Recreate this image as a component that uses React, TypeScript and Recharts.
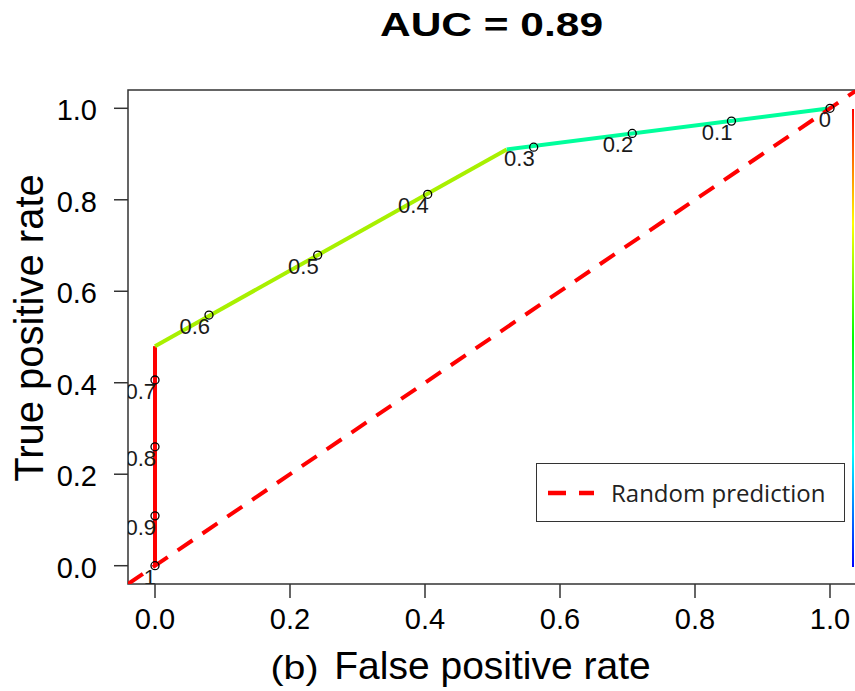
import {
  ComposedChart,
  Line,
  Scatter,
  XAxis,
  YAxis,
  ReferenceLine,
  ReferenceArea,
  Label,
  Customized
} from "recharts";

// ROC curve vertices (fpr, tpr) and the colour of each segment between them
const rocFpr = [0, 0, 0.521, 1];
const rocTpr = [0, 0.48, 0.91, 1];
const segmentColors = ["#ff0000", "#a8f000", "#00ff9c"];

// cutoff markers printed along the curve
const cutoffLabels = ["1", "0.9", "0.8", "0.7", "0.6", "0.5", "0.4", "0.3", "0.2", "0.1", "0"];
const cutoffFpr = [0, 0, 0, 0, 0.08, 0.241, 0.404, 0.561, 0.707, 0.854, 1];
const cutoffTpr = [0, 0.109, 0.26, 0.406, 0.548, 0.679, 0.812, 0.915, 0.945, 0.972, 1];

const xTicks = [0, 0.2, 0.4, 0.6, 0.8, 1];
const yTicks = [0, 0.2, 0.4, 0.6, 0.8, 1];
const axisDomain: [number, number] = [-0.04, 1.04];

const segments = segmentColors.map((color, i) => ({
  color,
  points: [
    { x: rocFpr[i], y: rocTpr[i] },
    { x: rocFpr[i + 1], y: rocTpr[i + 1] }
  ]
}));

const cutPoints = cutoffLabels.map((label, i) => ({ x: cutoffFpr[i], y: cutoffTpr[i], label }));

const FONT = "'Liberation Sans', Arial, sans-serif";

const XTick = ({ x, y, payload }: any) => (
  <text x={x} y={y} dy={29} textAnchor="middle" fontSize={29} fontFamily={FONT} fill="#000">
    {Number(payload.value).toFixed(1)}
  </text>
);

const YTick = ({ x, y, payload }: any) => (
  <text x={x - 15} y={y} dy={12} textAnchor="end" fontSize={29} fontFamily={FONT} fill="#000">
    {Number(payload.value).toFixed(1)}
  </text>
);

// open circle + cutoff value, text sits below-left of the point like ROCR does
const CutoffMark = ({ cx, cy, payload }: any) => (
  <g>
    <circle cx={cx} cy={cy} r={4} fill="none" stroke="#000" strokeWidth={1.3} />
    <text x={cx + 1} y={cy + 19} textAnchor="end" fontSize={22} fontFamily={FONT} fill="#1a1a1a">
      {payload.label}
    </text>
  </g>
);

const Title = () => (
  <text
    x={491.5}
    y={36}
    textAnchor="middle"
    fontSize={34}
    fontWeight="bold"
    fontFamily={FONT}
    fill="#000"
    textLength={223}
    lengthAdjust="spacingAndGlyphs"
  >
    AUC = 0.89
  </text>
);

export default function App() {
  return (
    <div style={{ position: "fixed", left: 0, top: 0, width: 855, height: 691, overflow: "hidden", background: "#fff" }}>
      <style>{`html, body { margin: 0; overflow: hidden; }`}</style>
      <ComposedChart
        width={870}
        height={691}
        margin={{ top: 90, right: 13, left: 8, bottom: 0 }}
      >
        <XAxis
          type="number"
          dataKey="x"
          domain={axisDomain}
          allowDataOverflow
          ticks={xTicks}
          interval={0}
          height={107}
          tickSize={14}
          axisLine={false}
          tickLine={{ stroke: "#333", strokeWidth: 1.5 }}
          tick={<XTick />}
        >
          <Label
            content={({ viewBox }: any) => (
              <text fontFamily={FONT} fill="#000">
                <tspan
                  x={viewBox.x + viewBox.width / 2 - 174}
                  y={679}
                  textAnchor="end"
                  fontSize={34}
                  textLength={48}
                  lengthAdjust="spacingAndGlyphs"
                >
                  (b)
                </tspan>
                <tspan x={viewBox.x + viewBox.width / 2} y={679} textAnchor="middle" fontSize={39}>
                  False positive rate
                </tspan>
              </text>
            )}
          />
        </XAxis>
        <YAxis
          type="number"
          dataKey="y"
          domain={axisDomain}
          allowDataOverflow
          ticks={yTicks}
          interval={0}
          width={120}
          tickSize={14}
          axisLine={false}
          tickLine={{ stroke: "#333", strokeWidth: 1.5 }}
          tick={<YTick />}
        >
          <Label
            content={({ viewBox }: any) => {
              const cy = viewBox.y + viewBox.height / 2 - 9;
              return (
                <text
                  x={43}
                  y={cy}
                  transform={`rotate(-90, 43, ${cy})`}
                  textAnchor="middle"
                  fontSize={40}
                  fontFamily={FONT}
                  fill="#000"
                >
                  True positive rate
                </text>
              );
            }}
          />
        </YAxis>

        {/* plot frame */}
        <ReferenceArea
          x1={axisDomain[0]}
          x2={axisDomain[1]}
          y1={axisDomain[0]}
          y2={axisDomain[1]}
          fill="none"
          stroke="#333"
          strokeWidth={1.5}
          ifOverflow="visible"
        />

        {segments.map((s, i) => (
          <Line
            key={i}
            data={s.points}
            dataKey="y"
            type="linear"
            stroke={s.color}
            strokeWidth={4}
            dot={false}
            activeDot={false}
            isAnimationActive={false}
          />
        ))}

        <Scatter data={cutPoints} dataKey="y" shape={<CutoffMark />} isAnimationActive={false} />

        <ReferenceLine
          segment={[
            { x: axisDomain[0], y: axisDomain[0] },
            { x: axisDomain[1], y: axisDomain[1] }
          ]}
          stroke="#ff0000"
          strokeWidth={4}
          strokeDasharray="18 12"
          ifOverflow="hidden"
        />

        <Customized component={Title} />
      </ComposedChart>

      {/* colour key for the cutoffs (red = 1 at top, blue = 0 at bottom) */}
      <div
        style={{
          position: "absolute",
          left: 852,
          top: 109,
          width: 2,
          height: 458,
          background: "linear-gradient(to bottom, #ff0000, #ffff00 25%, #00ff00 50%, #00ffff 75%, #0000ff)"
        }}
      />

      <div
        style={{
          position: "absolute",
          left: 536,
          top: 463,
          width: 309,
          height: 59,
          boxSizing: "border-box",
          border: "1.5px solid #333",
          background: "#fff",
          display: "flex",
          alignItems: "center"
        }}
      >
        <svg width={74} height={20} style={{ flexShrink: 0 }}>
          <line x1={11} y1={10} x2={57} y2={10} stroke="#ff0000" strokeWidth={4.5} strokeDasharray="18 13" />
        </svg>
        <span style={{ fontFamily: "'Open Sans', sans-serif", fontSize: 24, color: "#222", lineHeight: 1 }}>
          Random prediction
        </span>
      </div>
    </div>
  );
}
